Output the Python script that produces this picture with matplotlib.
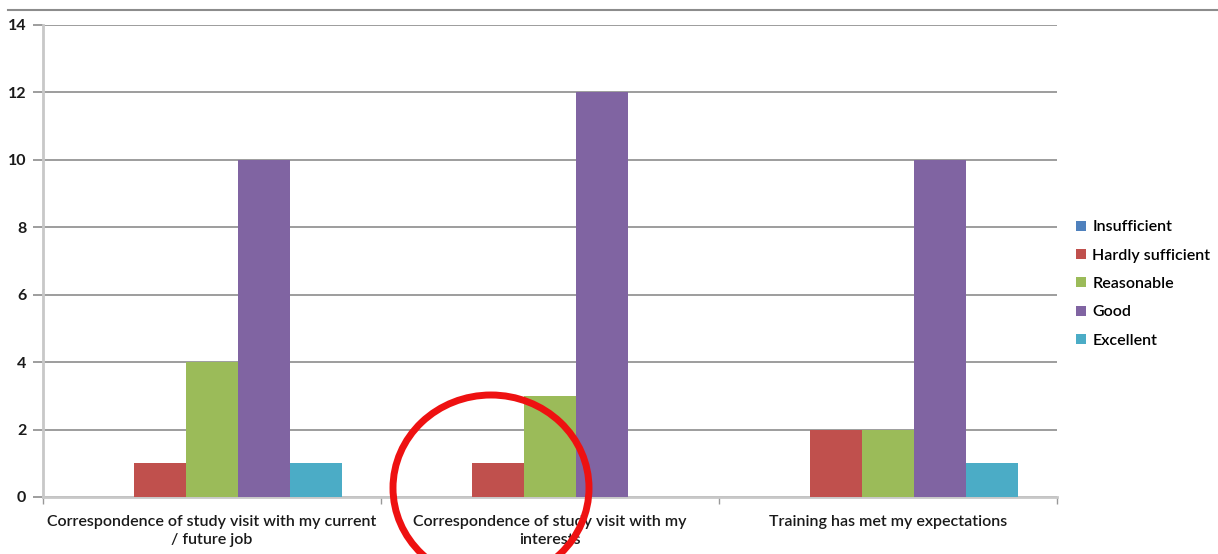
import matplotlib
matplotlib.use("Agg")
import matplotlib.pyplot as plt
from matplotlib.patches import Ellipse
from matplotlib.lines import Line2D
import numpy as np

plt.rcParams['font.family'] = ['Lato', 'DejaVu Sans']

CATEGORIES = ['Correspondence of study visit with my current\n/ future job',
              'Correspondence of study visit with my\ninterests',
              'Training has met my expectations']
SERIES = ['Insufficient', 'Hardly sufficient', 'Reasonable', 'Good', 'Excellent']
VALUES = {
    'Insufficient': [0, 0, 0],
    'Hardly sufficient': [1, 1, 2],
    'Reasonable': [4, 3, 2],
    'Good': [10, 12, 10],
    'Excellent': [1, 0, 1],
}
COLORS = ['#4F81BD', '#C0504D', '#9BBB59', '#8064A2', '#4BACC6']
Y_TICKS = [0, 2, 4, 6, 8, 10, 12, 14]


def make_plot():
    W, H = 1218, 554
    fig = plt.figure(figsize=(W / 100, H / 100), dpi=100)
    ax = fig.add_axes([43 / W, 1 - 497 / H, (1057 - 43) / W, (497 - 25) / H])

    x = np.arange(len(CATEGORIES))
    bw = 0.154
    for i, (name, color) in enumerate(zip(SERIES, COLORS)):
        ax.bar(x + (i - 2) * bw, VALUES[name], width=bw, color=color,
               label=name, zorder=3)

    ax.set_xlim(-0.5, 2.5)
    ax.set_ylim(0, 14)
    ax.set_yticks(Y_TICKS)
    ax.set_yticklabels([str(v) for v in Y_TICKS], fontweight='bold',
                       fontsize=11.5, color='#1a1a1a')
    ax.yaxis.grid(True, color='#8c8c8c', linewidth=1.2, zorder=0)
    ax.tick_params(axis='y', length=7, color='#8c8c8c', width=1.2, pad=5)

    ax.set_xticks(x)
    ax.set_xticklabels(CATEGORIES, fontsize=11.5, color='#1a1a1a',
                       fontweight='semibold', linespacing=1.35)
    ax.set_xticks([-0.5, 0.5, 1.5, 2.5], minor=True)
    ax.tick_params(axis='x', which='major', length=0, pad=13)
    ax.tick_params(axis='x', which='minor', length=5, color='#999999', width=1)

    for side in ['top', 'right']:
        ax.spines[side].set_visible(False)
    ax.spines['left'].set_color('#c8c8c8')
    ax.spines['left'].set_linewidth(2)
    ax.spines['bottom'].set_color('#c8c8c8')
    ax.spines['bottom'].set_linewidth(2)

    fig.legend(loc='center left', bbox_to_anchor=(1062 / W, 1 - 284 / H),
               frameon=False, handlelength=0.6, handleheight=0.6,
               handletextpad=0.4, labelspacing=0.9,
               prop={'size': 11.5, 'weight': 'semibold'})

    fig.add_artist(Line2D([8 / W, 1], [1 - 10 / H, 1 - 10 / H],
                          color='#8c8c8c', linewidth=1.5))
    fig.add_artist(Ellipse((491 / W, 1 - 488 / H), 196 / W, 186 / H,
                           fill=False, edgecolor='#ee1111', linewidth=5,
                           zorder=10))

    fig.savefig('out.png', dpi=100)


make_plot()
